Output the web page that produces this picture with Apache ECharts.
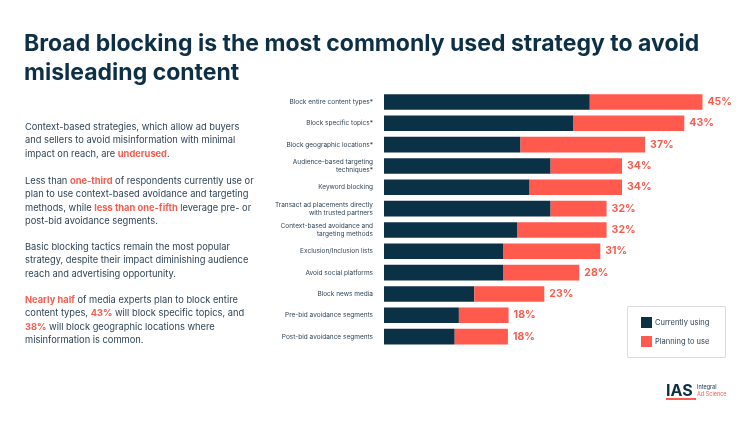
<!DOCTYPE html>
<html><head><meta charset="utf-8">
<script src="https://cdn.jsdelivr.net/npm/echarts@6/dist/echarts.min.js"></script>
<style>html,body{margin:0;padding:0;background:#fff}#c{width:750px;height:422px}</style>
</head><body><div id="c"></div>
<script>
var categories = [
  "Block entire content types*",
  "Block specific topics*",
  "Block geographic locations*",
  "Audience-based targeting\ntechniques*",
  "Keyword blocking",
  "Transact ad placements directly\nwith trusted partners",
  "Context-based avoidance and\ntargeting methods",
  "Exclusion/Inclusion lists",
  "Avoid social platforms",
  "Block news media",
  "Pre-bid avoidance segments",
  "Post-bid avoidance segments"
];
var currentlyUsing = [29.4, 27, 19.5, 23.8, 20.8, 23.8, 19, 17, 17, 12.9, 10.7, 10.1];
var planningToUse  = [16.1, 15.9, 17.8, 10.2, 13.2, 8, 12.8, 13.9, 10.9, 10, 7.1, 7.6];
var totalLabels    = ["45%", "43%", "37%", "34%", "34%", "32%", "32%", "31%", "28%", "23%", "18%", "18%"];

var NAVY = '#0b3147', CORAL = '#ff5a4d', TEXT = '#2f4456';
var FONT = 'Inter, "Noto Sans", sans-serif';

var chart = echarts.init(document.getElementById('c'), null, {renderer: 'canvas'});

var paraLines = [
  {y: 127, t: 'Context-based strategies, which allow ad buyers'},
  {y: 140.5, t: 'and sellers to avoid misinformation with minimal'},
  {y: 154, t: 'impact on reach, are {h|underused}.'},
  {y: 181, t: 'Less than {h|one-third} of respondents currently use or'},
  {y: 194.5, t: 'plan to use context-based avoidance and targeting'},
  {y: 208, t: 'methods, while {h|less than one-fifth} leverage pre- or'},
  {y: 221.5, t: 'post-bid avoidance segments.'},
  {y: 247, t: 'Basic blocking tactics remain the most popular'},
  {y: 260.5, t: 'strategy, despite their impact diminishing audience'},
  {y: 274, t: 'reach and advertising opportunity.'},
  {y: 300, t: '{h|Nearly half} of media experts plan to block entire'},
  {y: 313.5, t: 'content types, {h|43%} will block specific topics, and'},
  {y: 327, t: '{h|38%} will block geographic locations where'},
  {y: 340.5, t: 'misinformation is common.'}
];

var graphics = [
  {type: 'text', left: 24, top: 33, style: {text: 'Broad blocking is the most commonly used strategy to avoid', font: 'bold 23px ' + FONT, fill: '#0d3046'}},
  {type: 'text', left: 24, top: 62, style: {text: 'misleading content', font: 'bold 23px ' + FONT, fill: '#0d3046'}},
  {type: 'rect', shape: {x: 627.5, y: 306.5, width: 98, height: 51}, style: {fill: '#fff', stroke: '#dcdcdc', lineWidth: 1}, z: 0},
  {type: 'text', x: 666, y: 391, style: {text: 'IAS', font: 'bold 16px ' + FONT, fill: '#0d3046', verticalAlign: 'middle'}},
  {type: 'rect', shape: {x: 666, y: 398, width: 30, height: 2}, style: {fill: CORAL}},
  {type: 'text', x: 697, y: 387, style: {text: 'Integral', font: '5.5px ' + FONT, fill: '#0d3046', verticalAlign: 'middle'}},
  {type: 'text', x: 697, y: 394, style: {text: 'Ad Science', font: '5.5px ' + FONT, fill: CORAL, verticalAlign: 'middle'}}
];
paraLines.forEach(function (l) {
  graphics.push({type: 'text', x: 25, y: l.y, style: {
    text: l.t, fill: TEXT, font: '9.3px ' + FONT, verticalAlign: 'middle',
    rich: {h: {fill: CORAL, fontWeight: 'bold', fontSize: 9.3, fontFamily: FONT}}
  }});
});

chart.setOption({
  animation: false,
  textStyle: {fontFamily: FONT},
  grid: {left: 384, right: 16, top: 91.3, height: 256, containLabel: false},
  xAxis: {type: 'value', min: 0, max: 50, show: false},
  yAxis: {
    type: 'category', data: categories, inverse: true,
    axisLine: {show: false}, axisTick: {show: false},
    axisLabel: {fontSize: 6.5, color: TEXT, margin: 11, lineHeight: 8, align: 'right'}
  },
  legend: {
    orient: 'vertical', left: 641, top: 317, padding: 0,
    itemWidth: 11, itemHeight: 11, itemGap: 8, icon: 'rect',
    textStyle: {fontSize: 7.5, color: TEXT, padding: [0, 0, 0, -2]},
    data: ['Currently using', 'Planning to use']
  },
  series: [
    {name: 'Currently using', type: 'bar', stack: 's', data: currentlyUsing,
     barCategoryGap: '27%', itemStyle: {color: NAVY}},
    {name: 'Planning to use', type: 'bar', stack: 's', data: planningToUse,
     itemStyle: {color: CORAL},
     label: {show: true, position: 'right', distance: 5, color: CORAL,
       fontWeight: 'bold', fontSize: 10.5,
       formatter: function (p) { return totalLabels[p.dataIndex]; }}}
  ],
  graphic: graphics
});
</script></body></html>
